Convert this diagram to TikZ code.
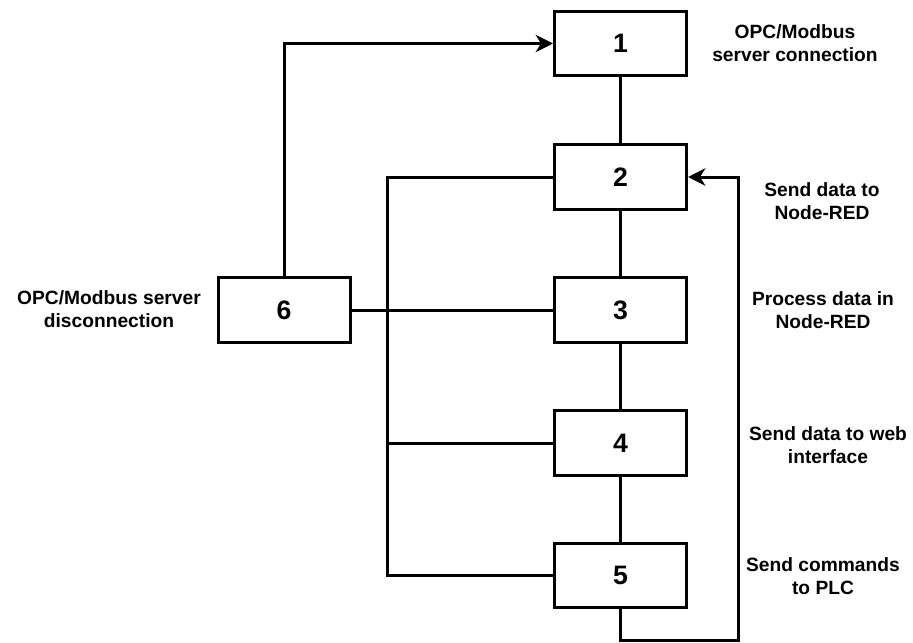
\documentclass[tikz,border=0pt]{standalone}
\usepackage{fontspec}
\setmainfont{Liberation Sans}
\usetikzlibrary{arrows.meta}
\begin{document}
\begin{tikzpicture}[x=0.75pt,y=-0.75pt,line width=2.25pt,
        stepbox/.style={draw, minimum width=99pt, minimum height=48.5pt, inner sep=0pt, font=\fontsize{20}{24}\selectfont\bfseries},
        note/.style={align=center, font=\fontsize{14.4}{17.3}\selectfont\bfseries},
        tip/.style={-{Stealth[length=13pt,width=13pt,inset=4pt]}}]
        \useasboundingbox (0,0) rectangle (913,642);
        \node [stepbox] (b1) at (620.5,43.5) {1};
        \node [stepbox] (b2) at (620.5,177) {2};
        \node [stepbox] (b3) at (620.5,310) {3};
        \node [stepbox] (b4) at (620.5,443) {4};
        \node [stepbox] (b5) at (620.5,575.5) {5};
        \node [stepbox] (b6) at (284,310) {6};
        \node [note] (l1) at (795,43) {OPC/Modbus\\server connection};
        \node [note] (l2) at (822,201) {Send data to\\Node-RED};
        \node [note] (l3) at (823,310) {Process data in\\Node-RED};
        \node [note] (l4) at (828,445) {Send data to web\\interface};
        \node [note] (l5) at (823,576) {Send commands\\to PLC};
        \node [note] (l6) at (109,309) {OPC/Modbus server\\disconnection};
        \coordinate (bus) at (387,575.5);
        \coordinate (loop) at (738,640);
        \draw (b1) -- (b2);
        \draw (b2) -- (b3);
        \draw (b3) -- (b4);
        \draw (b4) -- (b5);
        \draw [tip] (b5.south) |- (loop) |- (b2.east);
        \draw [tip] (b6.north) |- (b1.west);
        \draw (b6.east) -- (b3.west);
        \draw (b2.west) -| (bus) -- (b5.west);
        \draw (b4.west) -- (b4.west -| bus);
\end{tikzpicture}
\end{document}
